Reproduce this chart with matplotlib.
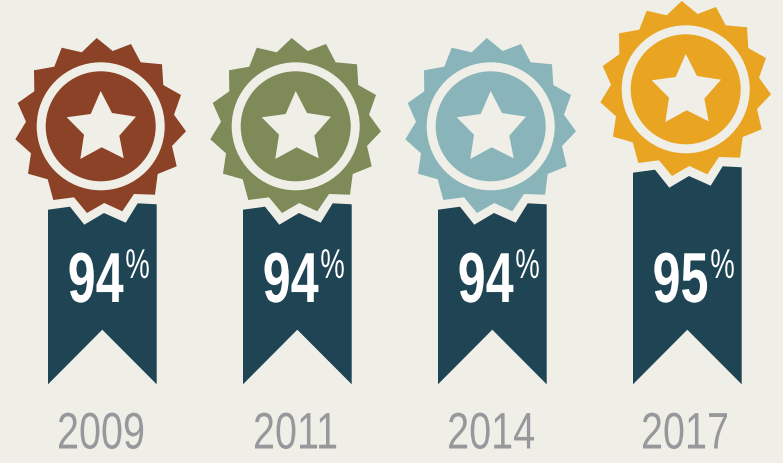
import matplotlib.pyplot as plt
from matplotlib.patches import Polygon, Circle
from matplotlib.patheffects import AbstractPathEffect
from matplotlib.text import Text
from matplotlib.transforms import Affine2D, Bbox
import numpy as np

years = ['2009', '2011', '2014', '2017']
percent = [94, 94, 94, 95]
badge_colors = ['#8b4226', '#7e8a58', '#88b4ba', '#e9a522']

# layout, in pixels of the 783x464 picture
x_shift = [0, 195, 390, 585]
y_shift = [0, 0, 0, -37]
year_x = [101, 295.5, 491, 685]

# badge shape, measured around the centre of the first badge
seal_x = [96.7, 112.7, 131, 140.7, 162, 163.3, 181, 174, 186, 172, 176.7, 157.7,
          155, 134, 122.3, 104.3, 87, 74, 53.3, 47.7, 28, 31, 15.3, 26, 17.7, 34.3, 34, 54.3, 61.7, 81.7]
seal_y = [39, 52, 45, 63.3, 65.3, 86, 96, 115.7, 132.3, 147, 167.3, 175,
          195.7, 195, 212.3, 204, 214, 198.3, 201, 180.3, 174.7, 154.3, 140.3, 122.7, 104, 92.3, 71.3, 67.7, 48.7, 53.3]
star_x = [100.7, 112, 136, 119.3, 123.7, 101.7, 80.3, 84, 66.7, 90.7]
star_y = [92, 114, 117.7, 136.7, 159.3, 148.3, 160, 135.7, 118.3, 115]
center_x, center_y = 100.7, 127.3

rib_top_x = [48, 70, 84.3, 104, 125.7, 137.7, 156.7]
rib_top_y = [210.7, 207.7, 225.7, 214, 223.7, 204.3, 205.3]
rib_low_x = [156.7, 102.3, 48]
rib_low_y = [385.3, 330.7, 385.3]

bg = '#efefe8'
ribbon = '#1f4454'


# no condensed font installed, so squeeze the text when it is drawn
class Squeeze(AbstractPathEffect):
    def __init__(self, sx):
        super().__init__()
        self.sx = sx

    def draw_path(self, renderer, gc, tpath, affine, rgbFace=None):
        box = tpath.get_extents(affine)
        cx = (box.x0 + box.x1) / 2
        squeeze = Affine2D().translate(-cx, 0).scale(self.sx, 1).translate(cx, 0)
        renderer.draw_path(gc, tpath, affine + squeeze, rgbFace)


class NarrowText(Text):
    def __init__(self, x, y, s, sx, **kw):
        super().__init__(x, y, s, ha='center', va='baseline', family='Liberation Sans',
                         path_effects=[Squeeze(sx)], **kw)
        self.sx = sx

    def get_window_extent(self, renderer=None, dpi=None):
        box = super().get_window_extent(renderer, dpi)
        cx = (box.x0 + box.x1) / 2
        half = box.width / 2 * self.sx
        return Bbox([[cx - half, box.y0], [cx + half, box.y1]])


fig = plt.figure(figsize=(7.83, 4.64), dpi=100, facecolor=bg)
ax = fig.add_axes([0, 0, 1, 1])
ax.set_xlim(0, 783)
ax.set_ylim(464, 0)
ax.axis('off')

for i in range(len(years)):
    dx, dy = x_shift[i], y_shift[i]
    col = badge_colors[i]

    pts = [(x + dx, y + dy) for x, y in zip(rib_top_x, rib_top_y)]
    pts += [(x + dx, y) for x, y in zip(rib_low_x, rib_low_y)]
    ax.add_patch(Polygon(pts, closed=True, fc=ribbon, ec='none'))

    seal = np.column_stack([np.array(seal_x) + dx, np.array(seal_y) + dy])
    ax.add_patch(Polygon(seal, closed=True, fc=col, ec='none'))
    ax.add_patch(Circle((center_x + dx, center_y + dy), 64, fc=bg, ec='none'))
    ax.add_patch(Circle((center_x + dx, center_y + dy), 55, fc=col, ec='none'))
    star = np.column_stack([np.array(star_x) + dx, np.array(star_y) + dy])
    ax.add_patch(Polygon(star, closed=True, fc=bg, ec='none'))

    ax.add_artist(NarrowText(95.5 + dx, 303, str(percent[i]), 0.71, color='white',
                             fontsize=51, fontweight='bold'))
    ax.add_artist(NarrowText(137.5 + dx, 279, '%', 0.66, color='white', fontsize=30))
    ax.add_artist(NarrowText(year_x[i], 449.5, years[i], 0.77, color='#97989c', fontsize=37))

fig.savefig('out.png', dpi=100, facecolor=bg)
